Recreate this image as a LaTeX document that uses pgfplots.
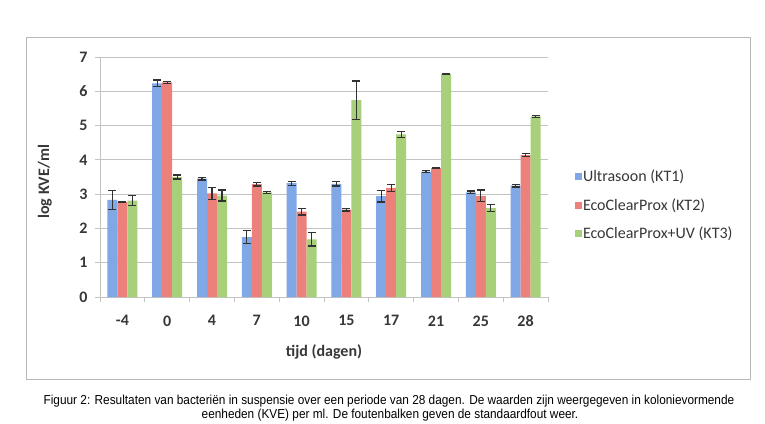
\documentclass[border=0pt]{standalone}
\usepackage{fontspec}
\setmainfont{Carlito}
\newfontfamily\capfont[FakeStretch=0.91]{Liberation Sans}
\usepackage{pgfplots}
\usepackage{pgfplotstable}
\pgfplotsset{compat=1.18}

\definecolor{kt1}{RGB}{128,168,230}
\definecolor{kt2}{RGB}{236,128,122}
\definecolor{kt3}{RGB}{168,208,122}
\definecolor{gridgray}{RGB}{195,195,195}
\definecolor{framegray}{RGB}{185,185,185}
\definecolor{txt}{RGB}{55,55,55}
\definecolor{errc}{RGB}{50,50,50}

% log KVE/ml per day, mean and standard error for each treatment
\pgfplotstableread{
x  B    Be   R    Re   G    Ge
0  2.83 0.28 2.77 0.02 2.81 0.14
1  6.23 0.10 6.26 0.03 3.50 0.06
2  3.45 0.04 3.02 0.18 2.96 0.16
3  1.75 0.20 3.29 0.05 3.05 0.02
4  3.32 0.06 2.49 0.10 1.68 0.19
5  3.30 0.06 2.55 0.04 5.74 0.56
6  2.94 0.17 3.18 0.10 4.74 0.09
7  3.66 0.04 3.76 0.02 6.50 0.02
8  3.05 0.04 2.95 0.17 2.59 0.10
9  3.25 0.04 4.14 0.05 5.27 0.03
}\data

\pgfplotsset{
  kterr/.style={
    error bars/.cd, y dir=both, y explicit,
    error bar style={line width=1.2pt, errc},
    error mark options={rotate=90, line width=1.2pt, mark size=4pt, errc}},
}

\begin{document}
\begin{tikzpicture}
\useasboundingbox (0,0) rectangle (765pt,423pt);
% chart frame
\draw[framegray, line width=0.8pt] (26pt,44pt) rectangle (750pt,386pt);
\begin{axis}[
  at={(100pt,126pt)}, anchor=south west,
  scale only axis, width=448pt, height=240pt,
  ybar=0pt, bar width=10pt,
  xmin=-0.5, xmax=9.5, ymin=0, ymax=7,
  ytick={0,...,7},
  xtick={0,...,9},
  xticklabels={-4,0,4,7,10,15,17,21,25,28},
  minor xtick={-0.5,0.5,...,9.5},
  ymajorgrids,
  grid style={gridgray, line width=0.8pt},
  axis x line*=bottom, axis y line*=left,
  axis line style={gridgray, line width=0.8pt, -},
  tick align=outside,
  major tick length=5pt, minor tick length=5pt,
  tick style={gridgray, line width=0.8pt},
  major x tick style={draw=none},
  /pgf/number format/assume math mode=true,
  ticklabel style={font=\fontsize{16}{18}\selectfont\bfseries, text=txt},
  yticklabel style={xshift=-4pt},
  xticklabel style={yshift=-10pt},
  xlabel={tijd (dagen)}, ylabel={log KVE/ml},
  label style={font=\fontsize{16}{18}\selectfont\bfseries, text=txt},
  xlabel style={at={(axis description cs:0.5,-0.229)}, anchor=center},
  ylabel style={at={(axis description cs:-0.123,0.48)}, anchor=center},
  legend style={at={(1.052,0.383)}, anchor=west, draw=none, fill=none,
    font=\fontsize{16}{18}\selectfont, text=txt,
    nodes={inner sep=1.5pt}, row sep=12pt},
  legend cell align=left,
]
\addplot[fill=kt1, draw=none,
  legend image code/.code={\fill[kt1] (0pt,-3.5pt) rectangle (7pt,3.5pt);},
  kterr] table[x=x, y=B, y error=Be]{\data};
\addplot[fill=kt2, draw=none,
  legend image code/.code={\fill[kt2] (0pt,-3.5pt) rectangle (7pt,3.5pt);},
  kterr] table[x=x, y=R, y error=Re]{\data};
\addplot[fill=kt3, draw=none,
  legend image code/.code={\fill[kt3] (0pt,-3.5pt) rectangle (7pt,3.5pt);},
  kterr] table[x=x, y=G, y error=Ge]{\data};
\legend{Ultrasoon (KT1), EcoClearProx (KT2), EcoClearProx+UV (KT3)}
\end{axis}
% figure caption
\node[font=\capfont\fontsize{13}{14}\selectfont, anchor=base] at (389pt,18.3pt)
  {Figuur 2: Resultaten van bacteriën in suspensie over een periode van 28 dagen. De waarden zijn weergegeven in kolonievormende};
\node[font=\capfont\fontsize{13}{14}\selectfont, anchor=base] at (390pt,4.3pt)
  {eenheden (KVE) per ml. De foutenbalken geven de standaardfout weer.};
\end{tikzpicture}
\end{document}
